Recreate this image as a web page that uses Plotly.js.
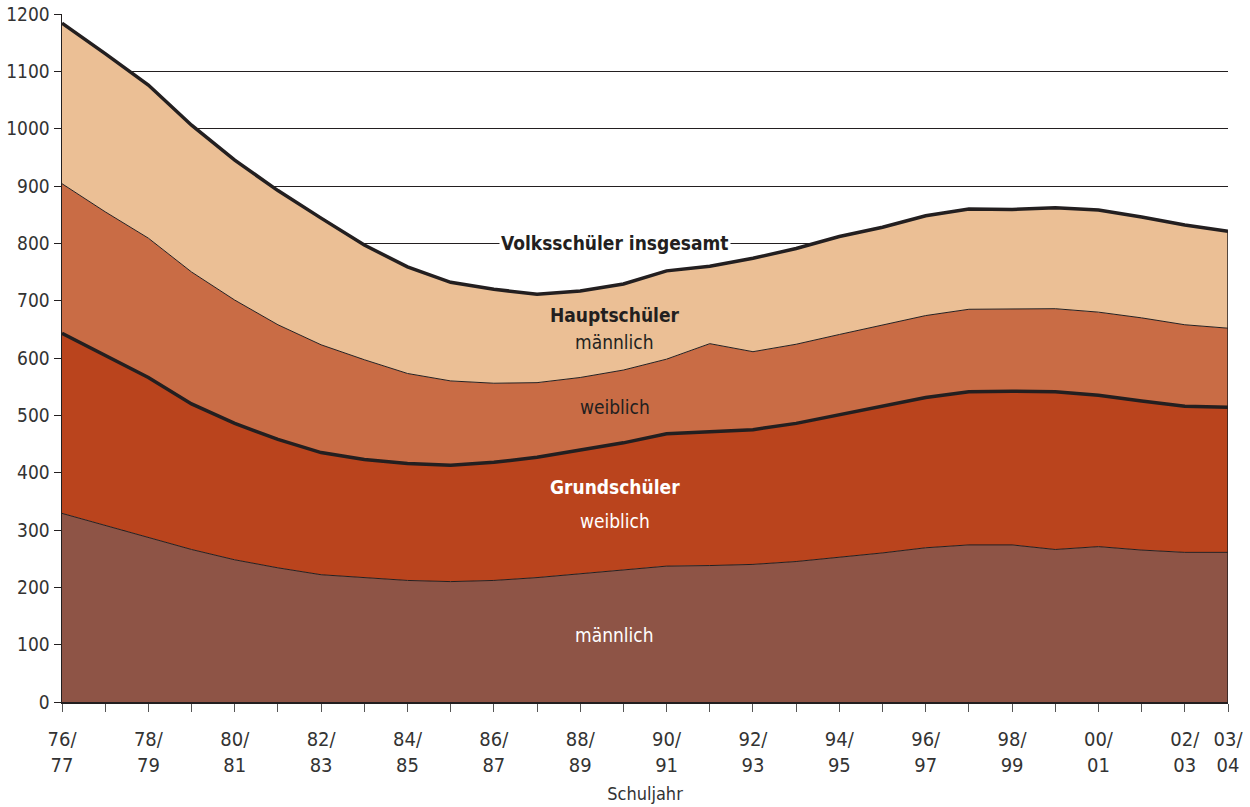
<!DOCTYPE html>
<html>
<head>
<meta charset="utf-8">
<script src="https://cdn.plot.ly/plotly-3.0.1.min.js"></script>
<style>
html,body{margin:0;padding:0;background:#fff;}
#chart{width:1250px;height:807px;}
</style>
</head>
<body>
<div id="chart"></div>
<script>
// School years 76/77 .. 03/04
const years = ["76/77","77/78","78/79","79/80","80/81","81/82","82/83","83/84","84/85","85/86",
  "86/87","87/88","88/89","89/90","90/91","91/92","92/93","93/94","94/95","95/96",
  "96/97","97/98","98/99","99/00","00/01","01/02","02/03","03/04"];

// Tick labels (every second year plus the last one)
const tickLabels = ["76/<br>77","","78/<br>79","","80/<br>81","","82/<br>83","","84/<br>85","",
  "86/<br>87","","88/<br>89","","90/<br>91","","92/<br>93","","94/<br>95","",
  "96/<br>97","","98/<br>99","","00/<br>01","","02/<br>03","03/<br>04"];

// Values (thousands of pupils)
const grundMaennlich = [329,308,287,266,248,234,222,217,212,210,212,217,224,230,237,238,240,245,252,260,269,274,274,266,271,265,261,261];
const grundWeiblich  = [314,297,279,254,238,224,213,206,204,203,206,210,215,222,231,233,235,241,249,256,262,267,268,275,264,260,255,253];
const hauptWeiblich  = [261,250,243,230,215,200,188,174,157,147,138,130,127,127,130,154,136,138,140,142,143,144,143,145,145,145,142,138];
const hauptMaennlich = [280,276,267,256,244,234,221,200,186,172,164,154,151,150,154,135,163,167,171,170,174,175,174,176,178,176,174,169];

const yTicks = [0,100,200,300,400,500,600,700,800,900,1000,1100,1200];

const xIdx = years.map((_, i) => i);
const grundTotal = grundMaennlich.map((v, i) => v + grundWeiblich[i]);
const gesamt = grundTotal.map((v, i) => v + hauptWeiblich[i] + hauptMaennlich[i]);

const dark = "#231F20";
const FONT = "'Liberation Sans Narrow','DejaVu Sans Condensed','Roboto',sans-serif";

function area(y, color, name) {
  return {x: xIdx, y: y, name: name, type: "scatter", mode: "lines",
    stackgroup: "one", fillcolor: color,
    line: {color: dark, width: 1, shape: "linear"}, hoverinfo: "skip"};
}

const traces = [
  area(grundMaennlich, "#8E5446", "Grundschüler männlich"),
  area(grundWeiblich, "#BA441D", "Grundschüler weiblich"),
  area(hauptWeiblich, "#C96C45", "Hauptschüler weiblich"),
  area(hauptMaennlich, "#EBBF95", "Hauptschüler männlich"),
  {x: xIdx, y: grundTotal, type: "scatter", mode: "lines",
    line: {color: dark, width: 3.5}, hoverinfo: "skip"},
  {x: xIdx, y: gesamt, type: "scatter", mode: "lines",
    line: {color: dark, width: 3.5}, hoverinfo: "skip"},
  {x: [xIdx[xIdx.length-1], xIdx[xIdx.length-1]], y: [0, gesamt[gesamt.length-1]],
    type: "scatter", mode: "lines", line: {color: dark, width: 1.5}, hoverinfo: "skip"}
];

const labelX = 12.8;
function ann(text, y, color, bold, bg) {
  return {x: labelX, y: y, xref: "x", yref: "y", text: bold ? "<b>" + text + "</b>" : text,
    showarrow: false, font: {family: FONT, size: 19, color: color},
    bgcolor: bg || "rgba(0,0,0,0)", borderpad: 1};
}

const layout = {
  width: 1250, height: 807,
  margin: {l: 62, r: 22, t: 14, b: 105},
  paper_bgcolor: "#fff", plot_bgcolor: "#fff",
  showlegend: false,
  font: {family: FONT, color: "#333"},
  xaxis: {
    range: [0, 27], tickmode: "array", tickvals: xIdx, ticktext: tickLabels,
    ticks: "outside", ticklen: 8, tickcolor: "#555", tickwidth: 1,
    tickfont: {family: FONT, size: 20, color: "#333"},
    showgrid: false, zeroline: false, showline: true, linecolor: dark, linewidth: 1.5,
    ticklabelstandoff: 10,
    title: {text: "Schuljahr", font: {family: FONT, size: 18, color: "#333"}, standoff: 12}
  },
  yaxis: {
    range: [0, 1200], tickmode: "array", tickvals: yTicks,
    ticks: "outside", ticklen: 7, tickcolor: dark,
    tickfont: {family: FONT, size: 19, color: "#333"},
    showgrid: true, gridcolor: dark, gridwidth: 1,
    zeroline: false, showline: true, linecolor: dark, linewidth: 1.5
  },
  annotations: [
    ann("Volksschüler insgesamt", 800, dark, true, "#fff"),
    ann("Hauptschüler", 675, dark, true),
    ann("männlich", 628, dark, false),
    ann("weiblich", 515, dark, false),
    ann("Grundschüler", 375, "#fff", true),
    ann("weiblich", 315, "#fff", false),
    ann("männlich", 117, "#fff", false)
  ]
};

Plotly.newPlot("chart", traces, layout, {displayModeBar: false, staticPlot: true});
</script>
</body>
</html>
